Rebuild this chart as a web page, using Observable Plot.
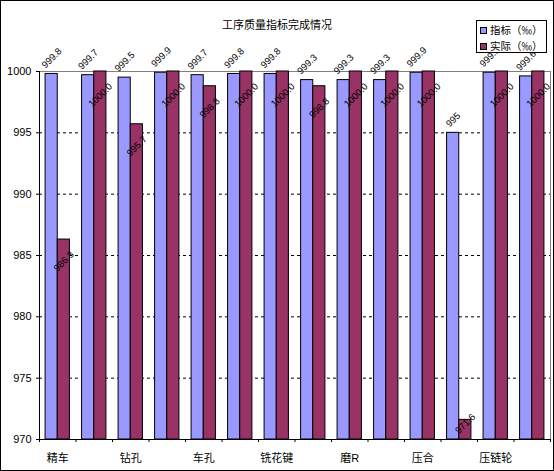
<!DOCTYPE html>
<html><head><meta charset="utf-8">
<script src="https://cdn.jsdelivr.net/npm/d3@7"></script>
<script src="https://cdn.jsdelivr.net/npm/@observablehq/plot@0.6"></script>
<style>
body{margin:0;background:#fff}
#wrap{position:relative;width:554px;height:471px;overflow:hidden;background:#fff}
#chart{position:absolute;left:0;top:0}
#border{position:absolute;left:0;top:0;width:554px;height:471px;box-sizing:border-box;border:1px solid #000;pointer-events:none}
#title{position:absolute;left:0;top:16px;width:554px;text-align:center;font:11px "Noto Sans CJK SC",sans-serif;line-height:16px;color:#000}
#legend{position:absolute;left:476px;top:20px;width:71px;height:33px;box-sizing:border-box;border:1px solid #000;background:#fff;font:10.5px "Noto Sans CJK SC",sans-serif;color:#000}
.item{position:absolute;left:3px;height:16px;line-height:16px;display:flex;align-items:center;white-space:nowrap}
.sw{display:inline-block;width:5px;height:5px;border:1px solid #000;margin-right:3px}
</style></head>
<body><div id="wrap"><div id="chart"></div><div id="title"></div><div id="legend"></div><div id="border"></div></div>
<script>
const title = "工序质量指标完成情况";
const seriesNames = ["指标（‰）", "实际（‰）"];
const seriesColors = ["#9999FF", "#993366"];
const tickLabels = ["精车", "", "钻孔", "", "车孔", "", "铣花键", "", "磨R", "", "压合", "", "压链轮", ""];
const indicator = [999.8, 999.7, 999.5, 999.9, 999.7, 999.8, 999.8, 999.3, 999.3, 999.3, 999.9, 995, 999.9, 999.6];
const actual = [986.3, 1000.0, 995.7, 1000.0, 998.8, 1000.0, 1000.0, 998.8, 1000.0, 1000.0, 1000.0, 971.6, 1000.0, 1000.0];
const yTicks = [970, 975, 980, 985, 990, 995, 1000];
const gridValues = [975, 980, 985, 990, 995];
const yMin = 970, yMax = 1000;

const W = 554, H = 471, mL = 39, mR = 4, mT = 71, mB = 32;
const n = tickLabels.length;
const idx = d3.range(n);
const step = (W - mL - mR) / n;
const band = step * 2 / 3;
const half = band / 2;
const labelAngle = -45;
const labelSize = 9.5;

const rows = idx.flatMap(i => [
  {i, series: seriesNames[0], value: indicator[i]},
  {i, series: seriesNames[1], value: actual[i]}
]);
const blue = rows.filter(d => d.series === seriesNames[0]);
const red = rows.filter(d => d.series === seriesNames[1]);
const fmtA = v => Number.isInteger(v) ? String(v) : v.toFixed(1);
const fmtB = v => v.toFixed(1);
const lowRoom = d => d.value - yMin < 2.6;
const redHigh = red.filter(d => !lowRoom(d));
const redLow = red.filter(lowRoom);

// approximate rotated label half-extent (for placing labels like the spreadsheet does)
const textW = s => [...s].reduce((w, c) => w + (c === "." ? 0.278 : 0.556) * labelSize, 0);
const halfExt = s => 0.7071 * (textW(s) + 0.72 * labelSize) / 2;

const labelSets = [
  {data: blue, text: d => fmtA(d.value), off: s => [-half / 2, -5 - halfExt(s)]},
  {data: redHigh, text: d => fmtB(d.value), off: s => [half / 2, 11 + halfExt(s)]},
  {data: redLow, text: d => fmtB(d.value), off: s => [half / 2, -7 + halfExt(s)]}
];

const chart = Plot.plot({
  width: W, height: H,
  marginLeft: mL, marginRight: mR, marginTop: mT, marginBottom: mB,
  style: {fontFamily: '"Liberation Sans", "Noto Sans CJK SC", sans-serif', background: "white", color: "black"},
  x: {type: "band", domain: idx, paddingInner: 1/3, paddingOuter: 1/6, round: false},
  y: {domain: [yMin, yMax]},
  color: {domain: seriesNames, range: seriesColors},
  marks: [
    Plot.ruleY(gridValues, {stroke: "black", strokeDasharray: "3,3"}),
    Plot.frame({stroke: "#808080"}),
    Plot.barY(blue, {x: "i", y1: yMin, y2: "value", fill: "series", stroke: "black", insetRight: half}),
    Plot.barY(red, {x: "i", y1: yMin, y2: "value", fill: "series", stroke: "black", insetLeft: half}),
    Plot.ruleY([yMin], {stroke: "black"}),
    Plot.ruleX(idx, {x: d => d, y1: yMin, y2: yMin, dx: -step / 2, insetBottom: -3, stroke: "black"}),
    Plot.ruleX([n - 1], {x: d => d, y1: yMin, y2: yMin, dx: step / 2, insetBottom: -3, stroke: "black"}),
    Plot.ruleX([0], {x: d => d, y1: yMin, y2: yMax, dx: -step / 2, stroke: "black"}),
    Plot.axisY({ticks: yTicks, tickSize: 3, tickPadding: 5, fontSize: 11, tickFormat: d3.format("d"), label: null}),
    Plot.axisX({tickSize: 0, tickPadding: 15, fontSize: 11, tickFormat: i => tickLabels[i], label: null}),
    ...labelSets.map(s => Plot.text(s.data, {x: "i", y: "value", text: s.text, rotate: labelAngle, fontSize: labelSize}))
  ]
});
// place each rotated label relative to its bar end, folding all offsets into the label's own transform
const re = /translate\(([-\d.e]+)[ ,]+([-\d.e]+)\)/;
chart.querySelectorAll('g[aria-label="text"]').forEach((g, k) => {
  const set = labelSets[k];
  if (!set) return;
  const m = re.exec(g.getAttribute("transform") || "");
  const gx = m ? +m[1] : 0, gy = m ? +m[2] : 0;
  g.removeAttribute("transform");
  g.querySelectorAll("text").forEach((t, j) => {
    const tm = re.exec(t.getAttribute("transform") || "");
    const x = tm ? +tm[1] : +(t.getAttribute("x") || 0);
    const y = tm ? +tm[2] : +(t.getAttribute("y") || 0);
    const [ox, oy] = set.off(t.textContent);
    const px = (x + gx + ox).toFixed(2), py = (y + gy + oy).toFixed(2);
    t.removeAttribute("x");
    t.setAttribute("transform", `translate(${px},${py}) rotate(${labelAngle})`);
    t.style.transform = `translate(${px}px,${py}px) rotate(${labelAngle}deg)`;
    t.style.transformOrigin = "0 0";
  });
});
document.getElementById("chart").appendChild(chart);
document.getElementById("title").textContent = title;
document.getElementById("legend").innerHTML = seriesNames.map((s, k) =>
  `<div class="item" style="top:${1 + 16 * k}px"><span class="sw" style="background:${seriesColors[k]}"></span>${s}</div>`).join("");
</script>
</body></html>
